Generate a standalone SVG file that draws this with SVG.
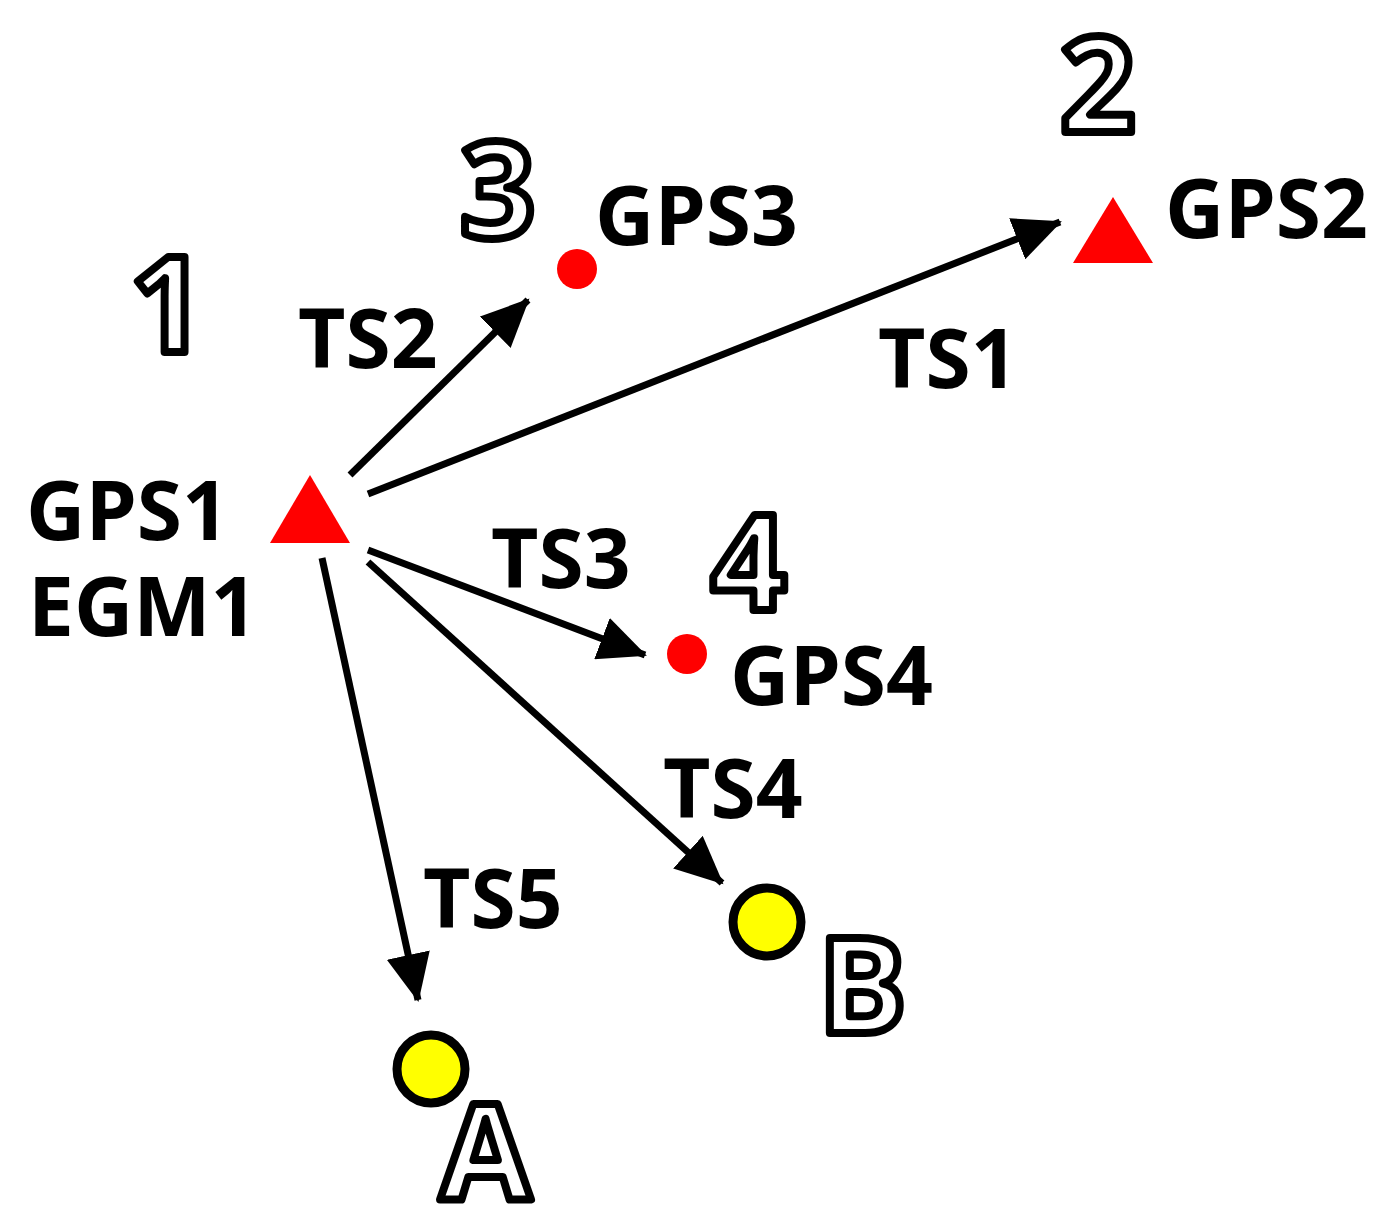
<svg xmlns="http://www.w3.org/2000/svg" width="1397" height="1222" viewBox="0 0 1397 1222">
<style>
.t{font-family:"Open Sans","Liberation Sans",sans-serif;font-weight:700;font-size:82px;fill:#000}
.o{font-family:"Open Sans","Liberation Sans",sans-serif;font-weight:700;font-size:132px;fill:#fff;stroke:#000;stroke-width:8;stroke-linejoin:round}
.c{stroke:#000;stroke-width:7;fill:none;marker-end:url(#ah)}
</style>
<defs>
<marker id="ah" markerUnits="userSpaceOnUse" markerWidth="50" markerHeight="44" refX="46" refY="22" orient="auto">
<path d="M0,0 L48,22 L0,44 Z" fill="#000"/>
</marker>
</defs>
<rect width="1397" height="1222" fill="#fff"/>
<g id="connectors">
<line class="c" x1="368" y1="494" x2="1060" y2="222"/>
<line class="c" x1="350" y1="475" x2="528" y2="300"/>
<line class="c" x1="368" y1="550" x2="645" y2="655"/>
<line class="c" x1="368" y1="562" x2="722" y2="883"/>
<line class="c" x1="322" y1="558" x2="418" y2="1000"/>
</g>
<g id="labels">
<text class="t" x="298" y="368">TS2</text>
<text class="t" x="878" y="388">TS1</text>
<text class="t" x="491" y="588">TS3</text>
<text class="t" x="663" y="818">TS4</text>
<text class="t" x="423" y="928">TS5</text>
</g>
<g id="gps1">
<polygon points="270,543 350,543 310,475" fill="#f00"/>
<text class="t" x="26" y="540">GPS1</text>
<text class="t" x="28" y="636">EGM1</text>
<text class="o" x="130" y="352">1</text>
</g>
<g id="gps2">
<polygon points="1073,263 1153,263 1113,197" fill="#f00"/>
<text class="t" x="1165" y="238">GPS2</text>
<text class="o" x="1060" y="132">2</text>
</g>
<g id="gps3">
<circle cx="577" cy="269" r="20" fill="#f00"/>
<text class="t" x="595" y="245">GPS3</text>
<text class="o" x="460" y="238">3</text>
</g>
<g id="gps4">
<circle cx="687" cy="654" r="20" fill="#f00"/>
<text class="t" x="730" y="705">GPS4</text>
<text class="o" x="711" y="610">4</text>
</g>
<g id="B">
<circle cx="767" cy="922" r="34" fill="#ff0" stroke="#000" stroke-width="9"/>
<text class="o" x="818" y="1033">B</text>
</g>
<g id="A">
<circle cx="431" cy="1069" r="34" fill="#ff0" stroke="#000" stroke-width="9"/>
<text class="o" x="440" y="1200">A</text>
</g>
</svg>
